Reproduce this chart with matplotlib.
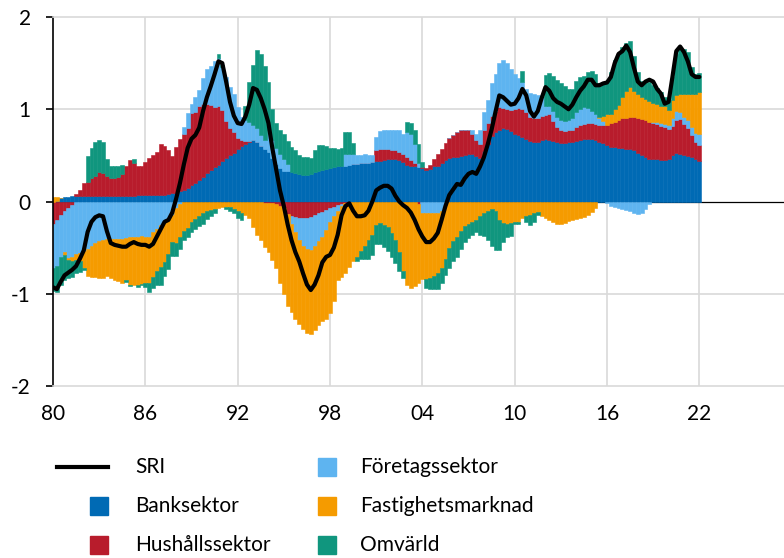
import numpy as np
import matplotlib
matplotlib.use("Agg")
import matplotlib.pyplot as plt
from matplotlib.lines import Line2D
from matplotlib.patches import Rectangle

plt.rcParams['font.family'] = ['Lato', 'DejaVu Sans']

# Quarterly data 1980Q1 - 2022Q1
start_year = 1980
bank = [
    0.00, 0.01, 0.04, 0.05,  0.05, 0.06, 0.06, 0.06,  0.06, 0.06, 0.06, 0.06,  0.06, 0.06, 0.06, 0.06,
    0.06, 0.06, 0.06, 0.06,  0.06, 0.06, 0.07, 0.07,  0.07, 0.07, 0.07, 0.07,  0.07, 0.07, 0.08, 0.09,
    0.09, 0.11, 0.13, 0.15,  0.18, 0.20, 0.23, 0.27,  0.31, 0.34, 0.37, 0.40,  0.44, 0.47, 0.50, 0.53,
    0.57, 0.60, 0.62, 0.64,  0.67, 0.65, 0.60, 0.57,  0.54, 0.47, 0.41, 0.36,  0.33, 0.33, 0.32, 0.31,
    0.30, 0.29, 0.29, 0.30,  0.32, 0.33, 0.34, 0.35,  0.36, 0.37, 0.38, 0.39,  0.39, 0.40, 0.41, 0.41,
    0.42, 0.42, 0.42, 0.43,  0.44, 0.44, 0.45, 0.46,  0.46, 0.46, 0.45, 0.43,  0.40, 0.39, 0.38, 0.37,
    0.36, 0.34, 0.35, 0.38,  0.39, 0.42, 0.45, 0.47,  0.48, 0.48, 0.49, 0.50,  0.51, 0.51, 0.49, 0.47,
    0.55, 0.62, 0.71, 0.75,  0.78, 0.80, 0.79, 0.76,  0.73, 0.72, 0.70, 0.68,  0.66, 0.64, 0.65, 0.67,
    0.68, 0.67, 0.66, 0.64,  0.63, 0.63, 0.64, 0.65,  0.66, 0.67, 0.68, 0.68,  0.68, 0.67, 0.64, 0.63,
    0.61, 0.59, 0.59, 0.58,  0.58, 0.57, 0.57, 0.56,  0.53, 0.50, 0.48, 0.46,  0.46, 0.46, 0.45, 0.45,
    0.46, 0.50, 0.53, 0.52,  0.50, 0.49, 0.48, 0.46,  0.44,
]
hushall = [
    -0.24, -0.20, -0.15, -0.10,  -0.07, -0.04, 0.02, 0.06,  0.14, 0.15, 0.19, 0.22,  0.26, 0.25, 0.22, 0.20,
    0.20, 0.21, 0.24, 0.32,  0.39, 0.36, 0.32, 0.31,  0.36, 0.40, 0.43, 0.47,  0.55, 0.53, 0.48, 0.40,
    0.50, 0.57, 0.60, 0.65,  0.78, 0.77, 0.80, 0.79,  0.75, 0.71, 0.65, 0.64,  0.55, 0.40, 0.30, 0.22,
    0.12, 0.07, 0.04, 0.02,  0.00, 0.00, 0.00, -0.02,  -0.02, -0.02, -0.03, -0.05,  -0.07, -0.14, -0.16, -0.17,
    -0.18, -0.18, -0.18, -0.17,  -0.15, -0.13, -0.11, -0.09,  -0.07, -0.06, -0.04, -0.03,  -0.02, -0.02, 0.00, 0.00,
    0.00, 0.00, 0.00, 0.00,  0.12, 0.13, 0.12, 0.11,  0.10, 0.10, 0.09, 0.08,  0.08, 0.06, 0.04, -0.03,
    0.01, 0.02, 0.05, 0.08,  0.12, 0.15, 0.18, 0.22,  0.24, 0.27, 0.28, 0.28,  0.26, 0.22, 0.18, 0.15,
    0.22, 0.23, 0.22, 0.23,  0.24, 0.21, 0.21, 0.23,  0.27, 0.29, 0.30, 0.29,  0.26, 0.27, 0.25, 0.26,
    0.26, 0.28, 0.21, 0.17,  0.15, 0.13, 0.13, 0.13,  0.15, 0.16, 0.16, 0.17,  0.17, 0.17, 0.19, 0.20,
    0.22, 0.26, 0.27, 0.30,  0.32, 0.34, 0.35, 0.36,  0.38, 0.39, 0.40, 0.40,  0.39, 0.38, 0.37, 0.36,
    0.33, 0.32, 0.35, 0.37,  0.34, 0.31, 0.24, 0.18,  0.17,
]
foretag = [
    -0.48, -0.50, -0.45, -0.45,  -0.54, -0.56, -0.57, -0.56,  -0.54, -0.51, -0.48, -0.45,  -0.43, -0.42, -0.41, -0.41,
    -0.41, -0.41, -0.41, -0.40,  -0.39, -0.38, -0.38, -0.37,  -0.38, -0.38, -0.33, -0.30,  -0.26, -0.23, -0.20, -0.15,
    -0.07, -0.03, 0.08, 0.16,  0.10, 0.16, 0.18, 0.28,  0.38, 0.42, 0.50, 0.52,  0.47, 0.48, 0.44, 0.42,
    0.33, 0.25, 0.22, 0.20,  0.16, 0.15, 0.12, 0.10,  0.24, 0.20, 0.17, 0.16,  0.13, 0.08, -0.08, -0.16,
    -0.24, -0.30, -0.34, -0.36,  -0.33, -0.30, -0.27, -0.22,  -0.15, -0.10, -0.06, -0.02,  0.12, 0.11, 0.10, 0.09,
    0.08, 0.09, 0.08, 0.07,  0.14, 0.19, 0.21, 0.21,  0.22, 0.22, 0.24, 0.22,  0.27, 0.28, 0.20, 0.05,
    -0.12, -0.13, -0.13, -0.13,  -0.12, -0.10, -0.04, 0.00,  0.00, 0.00, 0.00, 0.00,  0.00, 0.04, 0.06, 0.15,
    0.20, 0.25, 0.35, 0.40,  0.48, 0.52, 0.50, 0.45,  0.38, 0.33, 0.30, 0.25,  0.26, 0.25, 0.25, 0.20,
    0.10, 0.09, 0.11, 0.11,  0.10, 0.11, 0.11, 0.12,  0.16, 0.17, 0.18, 0.16,  0.13, 0.11, 0.07, 0.04,
    -0.02, -0.05, -0.06, -0.07,  -0.08, -0.09, -0.10, -0.13,  -0.14, -0.12, -0.08, -0.03,  0.01, 0.02, 0.03, 0.03,
    0.04, 0.08, 0.10, 0.08,  0.08, 0.08, 0.09, 0.10,  0.12,
]
fastighet = [
    0.05, 0.04, 0.00, -0.03,  -0.02, -0.04, -0.06, -0.08,  -0.18, -0.30, -0.34, -0.37,  -0.40, -0.41, -0.40, -0.42,
    -0.44, -0.45, -0.47, -0.45,  -0.52, -0.53, -0.53, -0.52,  -0.50, -0.50, -0.49, -0.45,  -0.45, -0.43, -0.37, -0.29,
    -0.38, -0.36, -0.32, -0.29,  -0.22, -0.19, -0.16, -0.12,  -0.10, -0.09, -0.08, -0.07,  -0.06, -0.06, -0.06, -0.08,
    -0.10, -0.12, -0.15, -0.18,  -0.28, -0.36, -0.42, -0.47,  -0.53, -0.61, -0.69, -0.83,  -0.93, -0.99, -0.96, -0.94,
    -0.91, -0.90, -0.91, -0.91,  -0.91, -0.91, -0.92, -0.96,  -0.99, -0.92, -0.75, -0.77,  -0.75, -0.69, -0.65, -0.60,
    -0.54, -0.48, -0.42, -0.36,  -0.26, -0.23, -0.25, -0.28,  -0.34, -0.42, -0.55, -0.75,  -0.90, -0.94, -0.92, -0.85,
    -0.72, -0.71, -0.70, -0.68,  -0.66, -0.62, -0.58, -0.50,  -0.43, -0.38, -0.32, -0.27,  -0.24, -0.22, -0.20, -0.16,
    -0.12, -0.10, -0.08, -0.10,  -0.20, -0.23, -0.24, -0.23,  -0.22, -0.22, -0.18, -0.16,  -0.15, -0.12, -0.11, -0.16,
    -0.18, -0.20, -0.22, -0.24,  -0.24, -0.23, -0.21, -0.20,  -0.19, -0.18, -0.17, -0.15,  -0.11, -0.07, 0.02, 0.06,
    0.12, 0.10, 0.14, 0.17,  0.23, 0.29, 0.32, 0.28,  0.26, 0.24, 0.23, 0.23,  0.21, 0.20, 0.19, 0.19,
    0.16, 0.20, 0.17, 0.19,  0.24, 0.28, 0.35, 0.42,  0.46,
]
omvarld = [
    -0.25, -0.28, -0.30, -0.27,  -0.20, -0.18, -0.15, -0.12,  -0.02, 0.28, 0.33, 0.36,  0.35, 0.34, 0.18, 0.12,
    0.12, 0.11, 0.10, -0.02,  -0.01, 0.04, -0.02, -0.02,  -0.05, -0.10, -0.12, -0.15,  -0.20, -0.15, -0.16, -0.15,
    -0.14, -0.12, -0.10, -0.10,  -0.11, -0.11, -0.11, -0.12,  -0.09, -0.07, -0.05, 0.04,  0.02, -0.02, -0.04, -0.05,
    -0.08, -0.08, 0.15, 0.44,  0.65, 0.84, 0.88, 0.80,  0.52, 0.33, 0.27, 0.26,  0.27, 0.25, 0.27, 0.25,
    0.20, 0.19, 0.19, 0.17,  0.24, 0.28, 0.27, 0.25,  0.22, 0.21, 0.19, 0.19,  0.24, 0.24, 0.12, -0.04,
    -0.08, -0.14, -0.20, -0.22,  -0.20, -0.23, -0.24, -0.26,  -0.26, -0.25, -0.20, -0.08,  0.11, 0.12, 0.16, 0.20,
    0.06, -0.10, -0.12, -0.14,  -0.17, -0.16, -0.18, -0.22,  -0.22, -0.22, -0.19, -0.17,  -0.16, -0.14, -0.13, -0.20,
    -0.25, -0.32, -0.40, -0.43,  -0.33, -0.21, -0.15, -0.14,  -0.02, -0.02, 0.12, -0.06,  -0.10, -0.10, -0.04, 0.00,
    0.33, 0.35, 0.38, 0.40,  0.40, 0.38, 0.34, 0.32,  0.34, 0.35, 0.34, 0.39,  0.44, 0.43, 0.36, 0.37,
    0.36, 0.45, 0.53, 0.55,  0.54, 0.52, 0.50, 0.38,  0.23, 0.18, 0.19, 0.20,  0.19, 0.17, 0.15, 0.10,
    0.11, 0.25, 0.45, 0.51,  0.49, 0.46, 0.30, 0.22,  0.20,
]
sri = [
    -0.93, -0.95, -0.87, -0.80,  -0.77, -0.74, -0.70, -0.62,  -0.53, -0.33, -0.22, -0.17,  -0.15, -0.16, -0.32, -0.45,
    -0.47, -0.48, -0.49, -0.49,  -0.46, -0.44, -0.46, -0.47,  -0.47, -0.49, -0.46, -0.38,  -0.30, -0.22, -0.20, -0.12,
    0.03, 0.20, 0.40, 0.58,  0.68, 0.72, 0.80, 0.98,  1.13, 1.25, 1.38, 1.52,  1.50, 1.30, 1.08, 0.93,
    0.85, 0.84, 0.92, 1.05,  1.23, 1.21, 1.12, 1.00,  0.85, 0.58, 0.35, 0.12,  -0.05, -0.25, -0.42, -0.55,
    -0.65, -0.78, -0.90, -0.96,  -0.90, -0.80, -0.66, -0.60,  -0.58, -0.50, -0.36, -0.15,  -0.05, -0.02, -0.10, -0.16,
    -0.16, -0.15, -0.10, 0.00,  0.12, 0.15, 0.17, 0.17,  0.14, 0.06, 0.00, -0.04,  -0.07, -0.12, -0.20, -0.30,
    -0.38, -0.44, -0.44, -0.40,  -0.34, -0.20, -0.05, 0.07,  0.13, 0.19, 0.18, 0.25,  0.30, 0.32, 0.30, 0.38,
    0.48, 0.62, 0.78, 0.97,  1.15, 1.13, 1.09, 1.05,  1.06, 1.12, 1.22, 1.15,  0.98, 0.92, 0.98, 1.12,
    1.24, 1.20, 1.12, 1.08,  1.06, 1.03, 1.00, 1.05,  1.13, 1.20, 1.25, 1.32,  1.32, 1.26, 1.26, 1.28,
    1.29, 1.35, 1.50, 1.60,  1.63, 1.69, 1.62, 1.45,  1.30, 1.26, 1.30, 1.32,  1.30, 1.22, 1.17, 1.06,
    1.08, 1.35, 1.63, 1.68,  1.62, 1.52, 1.38, 1.35,  1.35,
]

series_names = ["Banksektor", "Hushållssektor", "Företagssektor", "Fastighetsmarknad", "Omvärld"]
series_vals = [bank, hushall, foretag, fastighet, omvarld]
colors = ["#006ab4", "#b81c2c", "#5eb4f0", "#f59b00", "#10967e"]

xtick_years = [1980, 1986, 1992, 1998, 2004, 2010, 2016, 2022]
xtick_labels = ["80", "86", "92", "98", "04", "10", "16", "22"]
ytick_vals = [-2, -1, 0, 1, 2]
ytick_labels = ["-2", "-1", "0", "1", "2"]

n = len(sri)
t = start_year + 0.25 * np.arange(n)

W, H = 784, 558
fig = plt.figure(figsize=(W / 100, H / 100), dpi=100)
ax = fig.add_axes([53 / W, 1 - 386 / H, (W - 53) / W, (386 - 17) / H])

pos_base = np.zeros(n)
neg_base = np.zeros(n)
for vals, c in zip(series_vals, colors):
    v = np.array(vals, dtype=float)
    bottom = np.where(v >= 0, pos_base, neg_base)
    ax.bar(t, v, width=0.25, bottom=bottom, color=c, edgecolor=c, linewidth=0.4, zorder=2)
    pos_base = pos_base + np.where(v >= 0, v, 0)
    neg_base = neg_base + np.where(v < 0, v, 0)

ax.plot(t, sri, color="black", lw=3.0, zorder=4, solid_capstyle="round", solid_joinstyle="round")
ax.axhline(0, color="black", lw=0.9, zorder=1)

ax.set_xlim(1980, 2027.5)
ax.set_ylim(-2, 2)
ax.set_yticks(ytick_vals)
ax.set_yticklabels(ytick_labels)
ax.set_xticks(xtick_years)
ax.set_xticklabels(xtick_labels)

grid_c = "#d9d9d9"
for yv in [-1, 1]:
    ax.axhline(yv, color=grid_c, lw=1.2, zorder=0)
for xv in xtick_years[1:]:
    ax.axvline(xv, color=grid_c, lw=1.2, zorder=0)

for s in ["right"]:
    ax.spines[s].set_visible(False)
ax.spines["top"].set_color(grid_c)
ax.spines["bottom"].set_color(grid_c)
ax.spines["top"].set_linewidth(1.2)
ax.spines["bottom"].set_linewidth(1.2)
ax.spines["left"].set_color("black")
ax.spines["left"].set_linewidth(1.2)

ax.tick_params(axis="y", length=5, width=1.2, color="black", pad=11, labelsize=15)
ax.tick_params(axis="x", length=0, pad=13, labelsize=15)

# Legend (manual, figure coordinates)
def fx(px):
    return px / W

def fy(py):
    return 1 - py / H

fs = 15
rows = [467, 506, 545]
fig.add_artist(Line2D([fx(57), fx(108)], [fy(rows[0]), fy(rows[0])], color="black", lw=3.0, transform=fig.transFigure))
fig.text(fx(135), fy(rows[0]), "SRI", fontsize=fs, va="center", ha="left")
sq = 18
col1 = [(series_names[0], colors[0], rows[1]), (series_names[1], colors[1], rows[2])]
col2 = [(series_names[2], colors[2], rows[0]), (series_names[3], colors[3], rows[1]), (series_names[4], colors[4], rows[2])]
for name, c, ry in col1:
    fig.add_artist(Rectangle((fx(90), fy(ry + sq / 2)), sq / W, sq / H, color=c, transform=fig.transFigure))
    fig.text(fx(135), fy(ry), name, fontsize=fs, va="center", ha="left")
for name, c, ry in col2:
    fig.add_artist(Rectangle((fx(318), fy(ry + sq / 2)), sq / W, sq / H, color=c, transform=fig.transFigure))
    fig.text(fx(360), fy(ry), name, fontsize=fs, va="center", ha="left")

fig.savefig("out.png", dpi=100)
